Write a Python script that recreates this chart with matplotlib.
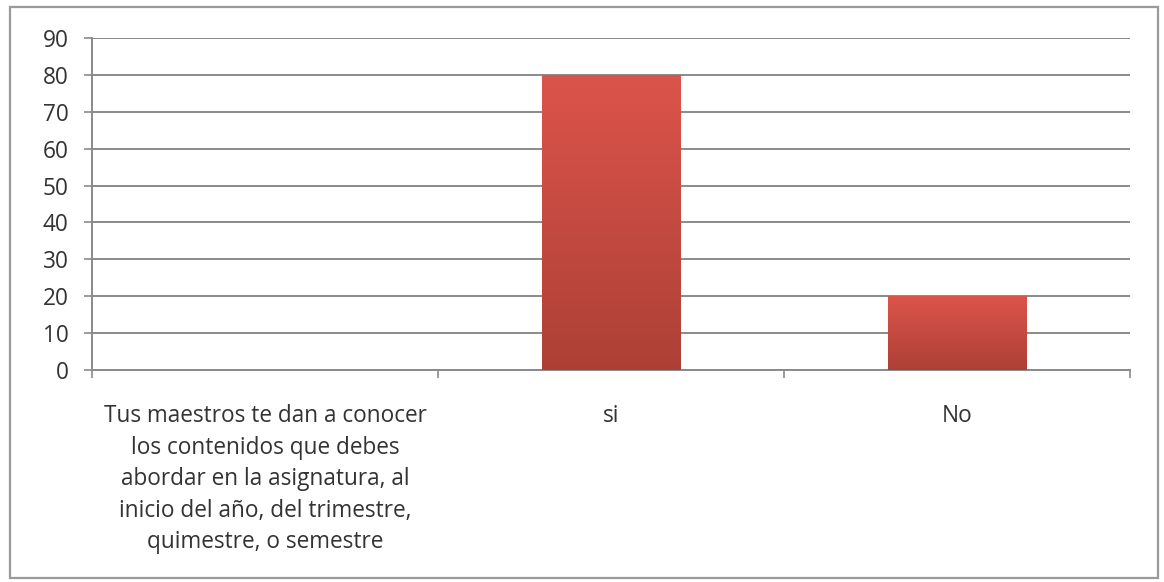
import matplotlib.pyplot as plt
import numpy as np
from matplotlib.patches import Rectangle

categories = [
    "Tus maestros te dan a conocer\nlos contenidos que debes\nabordar en la asignatura, al\ninicio del año, del trimestre,\nquimestre, o semestre",
    "si",
    "No",
]
values = [0, 80, 20]
y_ticks = list(range(0, 100, 10))

plt.rcParams["font.family"] = ["Open Sans", "DejaVu Sans"]

fig = plt.figure(figsize=(11.64, 5.82), dpi=100)
ax = fig.add_axes([0.079, 0.3643, 0.8918, 0.5704])

x = np.arange(len(categories))
bars = ax.bar(x, values, width=0.4, color="#c9473f", edgecolor="none", zorder=2)

# vertical red gradient inside each bar
grad = np.linspace(0, 1, 256).reshape(-1, 1)
cmap = plt.matplotlib.colors.LinearSegmentedColormap.from_list(
    "redgrad", ["#ad4036", "#dc544b"]
)
for b in bars:
    if b.get_height() <= 0:
        continue
    x0, w, h = b.get_x(), b.get_width(), b.get_height()
    im = ax.imshow(
        grad, cmap=cmap, aspect="auto", origin="lower",
        extent=(x0, x0 + w, 0, h), zorder=3,
    )
    im.set_clip_path(b)

ax.set_xlim(-0.5, 2.5)
ax.set_ylim(0, 90)
ax.set_yticks(y_ticks)
ax.yaxis.grid(True, color="#8a8a8a", linewidth=1.4, zorder=1)
ax.set_axisbelow(True)

# category boundaries as major ticks, labels on minor ticks
ax.set_xticks([-0.5, 0.5, 1.5, 2.5])
ax.set_xticklabels([])
ax.set_xticks(x, minor=True)
ax.set_xticklabels(categories, minor=True, fontsize=16.3, color="#333333",
                   ha="center", va="top", linespacing=1.42)
ax.tick_params(axis="x", which="major", length=6, color="#8a8a8a", width=1.2)
ax.tick_params(axis="x", which="minor", length=0, pad=24.5)
ax.tick_params(axis="y", length=6, color="#8a8a8a", width=1.2,
               labelsize=16.3, labelcolor="#333333", pad=11)

for side in ["top", "right"]:
    ax.spines[side].set_visible(False)
for side in ["left", "bottom"]:
    ax.spines[side].set_color("#8a8a8a")
    ax.spines[side].set_linewidth(1.4)

fig.patches.append(Rectangle(
    (0.0086, 0.0069), 0.9862, 0.9811, transform=fig.transFigure,
    fill=False, edgecolor="#9a9a9a", linewidth=1.6,
))

fig.savefig("out.png", dpi=100)
